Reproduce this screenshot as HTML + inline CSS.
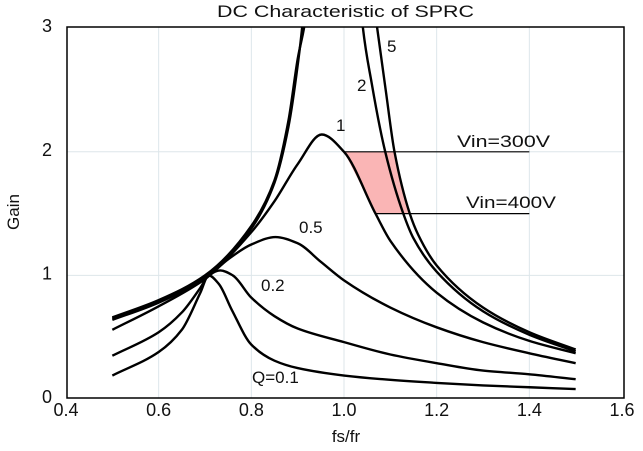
<!DOCTYPE html>
<html><head><meta charset="utf-8"><style>
html,body{margin:0;padding:0;background:#fff;width:643px;height:451px;overflow:hidden}
svg text{font-family:"Liberation Sans",sans-serif;fill:#111}
</style></head><body>
<svg id="chart" width="643" height="451" viewBox="0 0 643 451" xmlns="http://www.w3.org/2000/svg">
<defs><clipPath id="pc"><rect x="67" y="27" width="557" height="371"/></clipPath></defs>
<text x="217" y="17" font-size="17" textLength="257" lengthAdjust="spacingAndGlyphs">DC Characteristic of SPRC</text>
<g id="grid"></g>
<path id="region" fill="#f9a8a8" opacity="0.85"/>
<g id="curves" clip-path="url(#pc)"></g>
<g id="vlines"></g>
<rect x="67" y="27" width="557" height="371" fill="none" stroke="#000" stroke-width="1.5"/>
<g id="ticks"></g>
<text x="346" y="442" font-size="17" text-anchor="middle">fs/fr</text>
<text x="19" y="212" font-size="17" text-anchor="middle" transform="rotate(-90 19 212)">Gain</text>
<text x="387" y="52" font-size="17">5</text>
<text x="357" y="91" font-size="17">2</text>
<text x="336" y="131" font-size="17">1</text>
<text x="299" y="233" font-size="17">0.5</text>
<text x="261" y="291" font-size="17">0.2</text>
<text x="252" y="383" font-size="17">Q=0.1</text>
<text x="457" y="147" font-size="17" textLength="93" lengthAdjust="spacingAndGlyphs">Vin=300V</text>
<text x="466" y="208" font-size="17" textLength="90" lengthAdjust="spacingAndGlyphs">Vin=400V</text>
</svg>
<script>
const xTicks=[0.4,0.6,0.8,1.0,1.2,1.4,1.6];
const xTickLabels=["0.4","0.6","0.8","1.0","1.2","1.4","1.6"];
const yTicks=[0,1,2,3];
const yTickLabels=["0","1","2","3"];
const q01x=[0.5,0.6,0.65,0.69,0.708,0.73,0.758,0.8,0.85,0.9,1.0,1.1,1.2,1.3,1.4,1.5];
const q01y=[0.19,0.38,0.56,0.86,1.0,0.93,0.72,0.44,0.31,0.25,0.19,0.155,0.13,0.11,0.095,0.08];
const q02x=[0.5,0.6,0.65,0.69,0.708,0.733,0.76,0.8,0.85,0.9,1.0,1.1,1.2,1.3,1.4,1.5];
const q02y=[0.35,0.54,0.7,0.9,1.0,1.04,1.0,0.82,0.67,0.57,0.46,0.36,0.29,0.23,0.2,0.16];
const q05x=[0.5,0.6,0.7,0.75,0.8,0.852,0.9,0.95,1.0,1.1,1.2,1.3,1.4,1.5];
const q05y=[0.56,0.75,0.97,1.13,1.25,1.31,1.26,1.11,0.96,0.74,0.58,0.46,0.37,0.29];
const q1x=[0.5,0.6,0.7,0.8,0.85,0.9,0.952,1.0,1.068,1.1,1.2,1.3,1.4,1.5];
const q1y=[0.64,0.78,0.98,1.35,1.6,1.9,2.14,2.0,1.5,1.28,0.86,0.62,0.47,0.37];
const q2x=[0.5,0.6,0.7,0.8,0.85,0.88,0.9,0.912,0.92,1.03,1.038,1.06,1.089,1.128,1.15,1.2,1.3,1.4,1.5];
const q2y=[0.65,0.79,0.99,1.38,1.75,2.2,2.7,3.1,3.6,3.6,3.1,2.55,2.0,1.5,1.3,1.03,0.71,0.52,0.385];
const q5x=[0.5,0.6,0.7,0.8,0.85,0.88,0.9,0.918,0.93,1.05,1.068,1.09,1.109,1.142,1.16,1.2,1.3,1.4,1.5];
const q5y=[0.66,0.8,1.0,1.4,1.77,2.25,2.75,3.1,3.6,3.6,3.1,2.5,2.0,1.5,1.33,1.08,0.74,0.54,0.40];
const regionX=[1.0,1.109,1.142,1.068];
const regionY=[2.0,2.0,1.5,1.5];
const refX1=[1.0,1.068];const refX2=[1.4,1.4];const refY=[2.0,1.5];

const NS="http://www.w3.org/2000/svg";
const X=v=>66+(v-0.4)/1.2*556;
const Y=v=>399-v*123.6;
function mk(t,a,p){const e=document.createElementNS(NS,t);for(const k in a)e.setAttribute(k,a[k]);p.appendChild(e);return e;}
const grid=document.getElementById('grid'),ticks=document.getElementById('ticks');
xTicks.forEach((v,i)=>{
 if(i>0&&i<xTicks.length-1){const l=mk('line',{x1:X(v),x2:X(v),y1:27,y2:398,stroke:'#dde6ea','stroke-width':1},grid);
 
 }
 const t=mk('text',{x:X(v),y:416,'font-size':18,'text-anchor':'middle'},ticks);t.textContent=xTickLabels[i];
 
 
});
yTicks.forEach((v,i)=>{
 if(v>0&&v<3){const l=mk('line',{x1:67,x2:624,y1:Y(v),y2:Y(v),stroke:'#dde6ea','stroke-width':1},grid);
 
 }
 const t=mk('text',{x:52,y:Y(v)+4,'font-size':18,'text-anchor':'end'},ticks);t.textContent=yTickLabels[i];
 
 
});
// monotone cubic (Fritsch-Carlson) in pixel space
function smooth(xs,ys){const px=xs.map(X),py=ys.map(Y),n=px.length;
 const d=[],m=[];for(let i=0;i<n-1;i++)d.push((py[i+1]-py[i])/(px[i+1]-px[i]));
 m[0]=d[0];m[n-1]=d[n-2];
 for(let i=1;i<n-1;i++){if(d[i-1]*d[i]<=0)m[i]=0;else{const w1=2*(px[i+1]-px[i])+(px[i]-px[i-1]),w2=(px[i+1]-px[i])+2*(px[i]-px[i-1]);m[i]=(w1+w2)/(w1/d[i-1]+w2/d[i]);}}
 let s='M'+px[0]+','+py[0];
 for(let i=0;i<n-1;i++){const h=(px[i+1]-px[i])/3;
  s+=' C'+(px[i]+h)+','+(py[i]+m[i]*h)+' '+(px[i+1]-h)+','+(py[i+1]-m[i+1]*h)+' '+px[i+1]+','+py[i+1];}
 return s;}
const cg=document.getElementById('curves');
[[q01x,q01y,'curve-q0.1'],[q02x,q02y,'curve-q0.2'],[q05x,q05y,'curve-q0.5'],[q1x,q1y,'curve-q1'],[q2x,q2y,'curve-q2'],[q5x,q5y,'curve-q5']].forEach(s=>{
 const p=mk('path',{d:smooth(s[0],s[1]),fill:'none',stroke:'#000','stroke-width':2.4},cg);
 
 
});
document.getElementById('region').setAttribute('d','M'+regionX.map((x,i)=>X(x)+','+Y(regionY[i])).join(' L')+' Z');
const vl=document.getElementById('vlines');
refY.forEach((v,i)=>{const l=mk('line',{x1:X(refX1[i]),x2:X(refX2[i]),y1:Y(v),y2:Y(v),stroke:'#000','stroke-width':1.2},vl);
 
 });
</script>
</body></html>
